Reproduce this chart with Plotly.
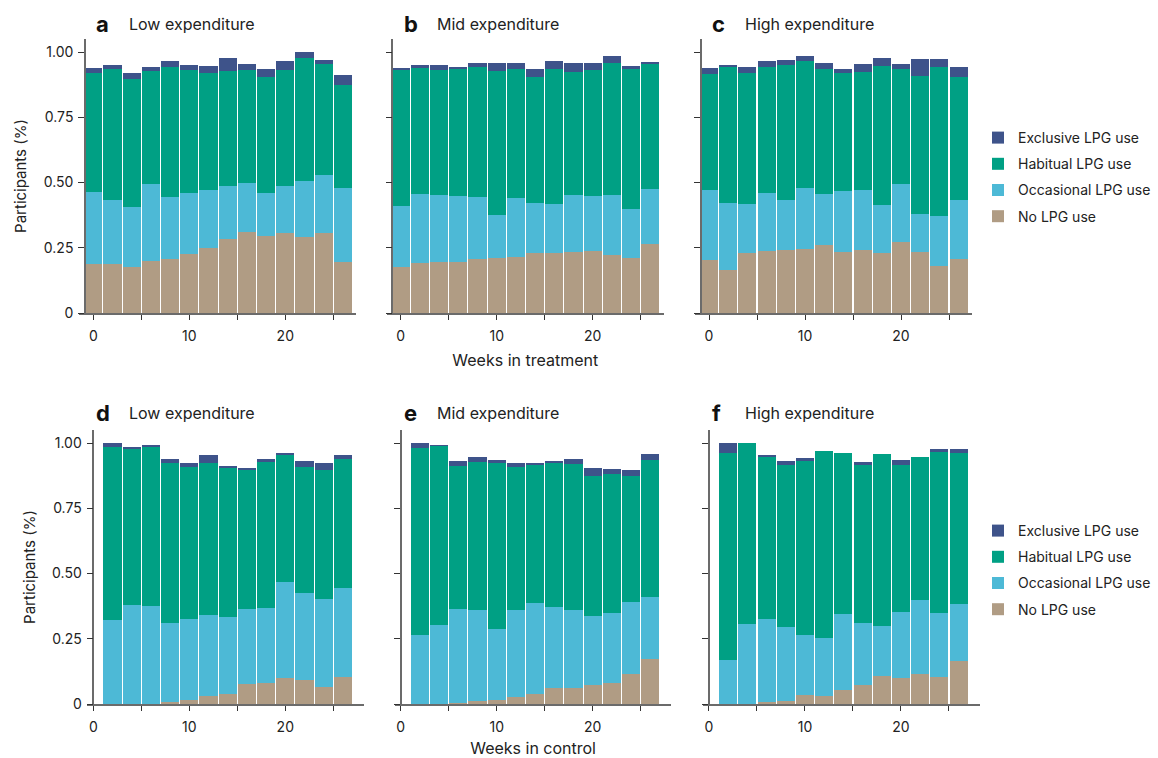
import plotly.graph_objects as go

# Survey rounds (weeks since enrolment)
weeks_treatment = [0, 2, 4, 6, 8, 10, 12, 14, 16, 18, 20, 22, 24, 26]
weeks_control = [2, 4, 6, 8, 10, 12, 14, 16, 18, 20, 22, 24, 26]

categories = ["No LPG use", "Occasional LPG use", "Habitual LPG use", "Exclusive LPG use"]
category_colors = ["#B09C84", "#4DB9D6", "#00A084", "#3E538A"]
legend_ranks = [4, 3, 2, 1]

# Treatment, low expenditure
treat_low_no = [0.189, 0.189, 0.176, 0.199, 0.207, 0.227, 0.250, 0.284, 0.312, 0.296, 0.307, 0.291, 0.307, 0.197]
treat_low_occ = [0.276, 0.245, 0.231, 0.297, 0.239, 0.234, 0.223, 0.204, 0.187, 0.165, 0.181, 0.216, 0.223, 0.283]
treat_low_hab = [0.456, 0.502, 0.491, 0.432, 0.498, 0.471, 0.448, 0.440, 0.433, 0.444, 0.444, 0.471, 0.425, 0.395]
treat_low_exc = [0.019, 0.015, 0.023, 0.016, 0.023, 0.019, 0.027, 0.050, 0.023, 0.031, 0.035, 0.022, 0.016, 0.038]

# Treatment, mid expenditure
treat_mid_no = [0.176, 0.192, 0.197, 0.197, 0.207, 0.212, 0.215, 0.230, 0.230, 0.235, 0.238, 0.222, 0.212, 0.266]
treat_mid_occ = [0.235, 0.265, 0.256, 0.253, 0.239, 0.165, 0.227, 0.193, 0.189, 0.218, 0.212, 0.231, 0.188, 0.210]
treat_mid_hab = [0.521, 0.483, 0.479, 0.486, 0.498, 0.551, 0.494, 0.482, 0.517, 0.472, 0.482, 0.506, 0.536, 0.479]
treat_mid_exc = [0.008, 0.011, 0.019, 0.008, 0.015, 0.031, 0.023, 0.031, 0.031, 0.034, 0.027, 0.027, 0.012, 0.008]

# Treatment, high expenditure
treat_high_no = [0.204, 0.166, 0.230, 0.238, 0.243, 0.245, 0.261, 0.235, 0.243, 0.230, 0.273, 0.235, 0.181, 0.207]
treat_high_occ = [0.269, 0.257, 0.189, 0.223, 0.191, 0.235, 0.196, 0.234, 0.230, 0.185, 0.223, 0.146, 0.192, 0.227]
treat_high_hab = [0.444, 0.521, 0.502, 0.483, 0.517, 0.487, 0.479, 0.452, 0.452, 0.533, 0.440, 0.528, 0.571, 0.471]
treat_high_exc = [0.023, 0.007, 0.023, 0.023, 0.020, 0.019, 0.023, 0.015, 0.030, 0.030, 0.019, 0.065, 0.030, 0.039]

# Control, low expenditure
ctrl_low_no = [0.0, 0.0, 0.0, 0.008, 0.015, 0.031, 0.038, 0.077, 0.079, 0.100, 0.093, 0.065, 0.103]
ctrl_low_occ = [0.322, 0.379, 0.375, 0.302, 0.311, 0.310, 0.295, 0.287, 0.289, 0.367, 0.332, 0.337, 0.341]
ctrl_low_hab = [0.663, 0.598, 0.610, 0.613, 0.582, 0.582, 0.571, 0.533, 0.559, 0.491, 0.483, 0.495, 0.495]
ctrl_low_exc = [0.015, 0.008, 0.007, 0.016, 0.015, 0.031, 0.008, 0.007, 0.012, 0.002, 0.023, 0.026, 0.015]

# Control, mid expenditure
ctrl_mid_no = [0.0, 0.0, 0.004, 0.011, 0.017, 0.027, 0.040, 0.063, 0.063, 0.073, 0.080, 0.116, 0.172]
ctrl_mid_occ = [0.264, 0.303, 0.360, 0.349, 0.270, 0.333, 0.347, 0.309, 0.297, 0.264, 0.269, 0.275, 0.238]
ctrl_mid_hab = [0.717, 0.686, 0.548, 0.567, 0.636, 0.548, 0.529, 0.551, 0.560, 0.537, 0.532, 0.483, 0.525]
ctrl_mid_exc = [0.019, 0.003, 0.019, 0.019, 0.012, 0.015, 0.004, 0.008, 0.019, 0.030, 0.019, 0.023, 0.023]

# Control, high expenditure
ctrl_high_no = [0.0, 0.0, 0.008, 0.010, 0.034, 0.032, 0.055, 0.073, 0.109, 0.101, 0.116, 0.103, 0.165]
ctrl_high_occ = [0.169, 0.307, 0.318, 0.285, 0.230, 0.221, 0.290, 0.237, 0.190, 0.251, 0.282, 0.246, 0.218]
ctrl_high_hab = [0.793, 0.693, 0.620, 0.621, 0.667, 0.716, 0.617, 0.606, 0.659, 0.564, 0.548, 0.617, 0.579]
ctrl_high_exc = [0.038, 0.0, 0.008, 0.015, 0.012, 0.0, 0.0, 0.011, 0.0, 0.019, 0.0, 0.011, 0.015]

y_tick_vals = [0, 0.25, 0.5, 0.75, 1.0]
y_tick_text = ["0", "0.25", "0.50", "0.75", "1.00"]
x_tick_vals = [0, 5, 10, 15, 20, 25]
x_tick_text = ["0", "", "10", "", "20", ""]

W, H = 1158, 758
PX_PER_WEEK = 9.6
FONT = "Inter"
TEXT_COLOR = "#222222"


def fx(px):
    return px / W


def fy(py):
    return 1 - py / H


rows = [
    # top row: treatment; bottom row: control
    dict(y_top=39, y_bottom=313, x_range=[-1.45, 27.4], spine=-0.87, weeks=weeks_treatment,
         legend="legend", xtitle="Weeks in treatment", title_y=24),
    dict(y_top=430, y_bottom=704, x_range=[-0.62, 28.2], spine=0.0, weeks=weeks_control,
         legend="legend2", xtitle="Weeks in control", title_y=413),
]

panels = [
    dict(row=0, col=0, letter="a", title="Low expenditure", x0=93.3,
         series=[treat_low_no, treat_low_occ, treat_low_hab, treat_low_exc]),
    dict(row=0, col=1, letter="b", title="Mid expenditure", x0=400.7,
         series=[treat_mid_no, treat_mid_occ, treat_mid_hab, treat_mid_exc]),
    dict(row=0, col=2, letter="c", title="High expenditure", x0=709.0,
         series=[treat_high_no, treat_high_occ, treat_high_hab, treat_high_exc]),
    dict(row=1, col=0, letter="d", title="Low expenditure", x0=93.3,
         series=[ctrl_low_no, ctrl_low_occ, ctrl_low_hab, ctrl_low_exc]),
    dict(row=1, col=1, letter="e", title="Mid expenditure", x0=400.7,
         series=[ctrl_mid_no, ctrl_mid_occ, ctrl_mid_hab, ctrl_mid_exc]),
    dict(row=1, col=2, letter="f", title="High expenditure", x0=709.0,
         series=[ctrl_high_no, ctrl_high_occ, ctrl_high_hab, ctrl_high_exc]),
]

fig = go.Figure()
layout = {}
annotations = []

for i, p in enumerate(panels, start=1):
    r = rows[p["row"]]
    xa, ya = f"x{i}", f"y{i}"
    for k, (cat, col, vals) in enumerate(zip(categories, category_colors, p["series"])):
        fig.add_trace(go.Bar(
            x=r["weeks"], y=vals, width=1.88, name=cat,
            marker=dict(color=col, line=dict(width=0)),
            xaxis=xa, yaxis=ya,
            legend=r["legend"], legendgroup=f"{r['legend']}_{k}",
            legendrank=legend_ranks[k],
            showlegend=(p["col"] == 0),
            hovertemplate=f"{cat}<br>Week %{{x}}: %{{y:.2f}}<extra></extra>",
        ))

    x_left = p["x0"] + r["x_range"][0] * PX_PER_WEEK
    x_right = p["x0"] + r["x_range"][1] * PX_PER_WEEK
    spine_px = p["x0"] + r["spine"] * PX_PER_WEEK

    xaxis = dict(
        domain=[fx(x_left), fx(x_right)], range=r["x_range"], anchor=ya,
        automargin=False,
        showline=True, linecolor="#6b6b6b", linewidth=1.5,
        showgrid=False, zeroline=False,
        tickmode="array", tickvals=x_tick_vals, ticktext=x_tick_text,
        ticks="outside", ticklen=5, tickwidth=1.2, tickcolor="#333333",
        ticklabelstandoff=4,
        tickfont=dict(family=FONT, size=14, color=TEXT_COLOR),
        fixedrange=True,
    )
    if p["col"] == 1:
        xaxis["title"] = dict(text=r["xtitle"], standoff=12,
                              font=dict(family=FONT, size=16, color=TEXT_COLOR))
    yaxis = dict(
        domain=[fy(r["y_bottom"]), fy(r["y_top"])], range=[0, 1.05],
        anchor="free", position=fx(spine_px),
        automargin=False,
        showline=True, linecolor="#6b6b6b", linewidth=1.5,
        showgrid=False, zeroline=False,
        tickmode="array", tickvals=y_tick_vals,
        ticktext=y_tick_text if p["col"] == 0 else [""] * len(y_tick_vals),
        ticks="outside", ticklen=6, tickwidth=1.2, tickcolor="#333333",
        ticklabelstandoff=2,
        tickfont=dict(family=FONT, size=14, color=TEXT_COLOR),
        fixedrange=True,
    )
    if p["col"] == 0:
        yaxis["title"] = dict(text="Participants (%)", standoff=12,
                              font=dict(family=FONT, size=15, color=TEXT_COLOR))
    layout[f"xaxis{i}"] = xaxis
    layout[f"yaxis{i}"] = yaxis

    # Panel letter and heading
    annotations.append(dict(
        x=fx(p["x0"] + 1), y=fy(r["title_y"]), xref="paper", yref="paper",
        xanchor="left", yanchor="middle", showarrow=False,
        text=f"<b>{p['letter']}</b>", font=dict(family=FONT, size=22, color="#111111"),
    ))
    annotations.append(dict(
        x=fx(p["x0"] + 34), y=fy(r["title_y"]), xref="paper", yref="paper",
        xanchor="left", yanchor="middle", showarrow=False,
        text=p["title"], font=dict(family=FONT, size=16, color=TEXT_COLOR),
    ))

legend_style = dict(
    xanchor="left", yanchor="top", bgcolor="rgba(0,0,0,0)",
    font=dict(family=FONT, size=14, color=TEXT_COLOR),
    traceorder="grouped", tracegroupgap=5, itemclick=False, itemdoubleclick=False,
)

fig.update_layout(
    width=W, height=H,
    margin=dict(l=0, r=0, t=0, b=0, autoexpand=False),
    paper_bgcolor="white", plot_bgcolor="white",
    barmode="stack",
    font=dict(family=FONT, color=TEXT_COLOR),
    annotations=annotations,
    legend=dict(x=fx(978), y=fy(122), **legend_style),
    legend2=dict(x=fx(978), y=fy(515), **legend_style),
    showlegend=True,
    **layout,
)

fig.write_html("out.html")
